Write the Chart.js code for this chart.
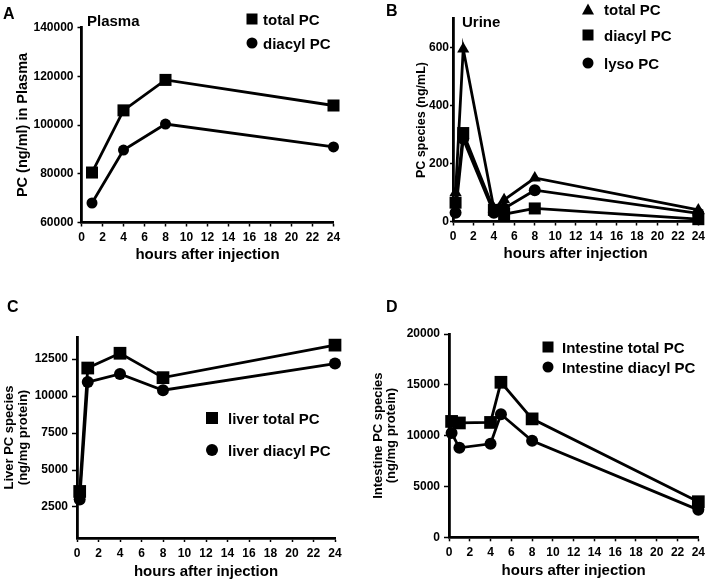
<!DOCTYPE html>
<html>
<head>
<meta charset="utf-8">
<script src="https://cdn.jsdelivr.net/npm/chart.js@4.4.1/dist/chart.umd.min.js"></script>
<style>
  body { margin: 0; background: #fff; }
  #wrap { position: relative; width: 709px; height: 583px; overflow: hidden;
          font-family: "Liberation Sans", Arial, sans-serif; font-weight: bold; color: #000; }
  canvas { position: absolute; }
  .txt { position: absolute; white-space: nowrap; line-height: 1; transform: translateY(-50%); }
  .mk { position: absolute; background: #000; transform: translate(-50%, -50%); }
  .sq { width: 11px; height: 11px; }
  .ci { width: 11px; height: 11px; border-radius: 50%; }
  .tri { width: 0; height: 0; background: none; border-left: 6px solid transparent;
         border-right: 6px solid transparent; border-bottom: 11px solid #000; }
</style>
</head>
<body>
<div id="wrap">
  <canvas id="chartA" width="355" height="290" style="left:0;top:0"></canvas>
  <canvas id="chartB" width="354" height="290" style="left:355px;top:0"></canvas>
  <canvas id="chartC" width="355" height="293" style="left:0;top:290px"></canvas>
  <canvas id="chartD" width="354" height="293" style="left:355px;top:290px"></canvas>

  <div class="txt" style="left:3px;top:14px;font-size:16px">A</div>
  <div class="txt" style="left:87px;top:20px;font-size:15px">Plasma</div>
  <div class="mk sq" style="left:252px;top:19px"></div>
  <div class="txt" style="left:263px;top:19px;font-size:15px">total PC</div>
  <div class="mk ci" style="left:252px;top:43px"></div>
  <div class="txt" style="left:263px;top:43px;font-size:15px">diacyl PC</div>

  <div class="txt" style="left:386px;top:11px;font-size:16px">B</div>
  <div class="txt" style="left:462px;top:21px;font-size:15px">Urine</div>
  <div class="mk tri" style="left:588px;top:9px"></div>
  <div class="txt" style="left:604px;top:9px;font-size:15px">total PC</div>
  <div class="mk sq" style="left:588px;top:35px"></div>
  <div class="txt" style="left:604px;top:35px;font-size:15px">diacyl PC</div>
  <div class="mk ci" style="left:588px;top:63px"></div>
  <div class="txt" style="left:604px;top:63px;font-size:15px">lyso PC</div>

  <div class="txt" style="left:7px;top:307px;font-size:16px">C</div>
  <div class="mk sq" style="left:212px;top:418px;width:12px;height:12px"></div>
  <div class="txt" style="left:228px;top:418px;font-size:15px">liver total PC</div>
  <div class="mk ci" style="left:212px;top:450px;width:12px;height:12px"></div>
  <div class="txt" style="left:228px;top:450px;font-size:15px">liver diacyl PC</div>

  <div class="txt" style="left:386px;top:307px;font-size:16px">D</div>
  <div class="mk sq" style="left:548px;top:347px"></div>
  <div class="txt" style="left:562px;top:347px;font-size:15px">Intestine total PC</div>
  <div class="mk ci" style="left:548px;top:367px"></div>
  <div class="txt" style="left:562px;top:367px;font-size:15px">Intestine diacyl PC</div>
</div>
<script>
const xTicks = [0, 2, 4, 6, 8, 10, 12, 14, 16, 18, 20, 22, 24];

// A: plasma
const hoursA = [1, 4, 8, 24];
const plasmaTotal = [80500, 106000, 118500, 108000];
const plasmaDiacyl = [68000, 89700, 100400, 91000];
const yTicksA = [60000, 80000, 100000, 120000, 140000];

// B: urine
const hoursB = [0.25, 1, 4, 5, 8, 24];
const urineTotal = [100, 595, 45, 75, 150, 40];
const urineDiacyl = [65, 305, 40, 25, 45, 8];
const urineLyso = [30, 285, 30, 45, 108, 28];
const yTicksB = [0, 200, 400, 600];

// C: liver
const hoursC = [0.25, 1, 4, 8, 24];
const liverTotal = [3550, 11900, 12900, 11250, 13450];
const liverDiacyl = [3000, 10950, 11500, 10400, 12200];
const yTicksC = [2500, 5000, 7500, 10000, 12500];

// D: intestine
const hoursD = [0.25, 1, 4, 5, 8, 24];
const intestineTotal = [11400, 11250, 11300, 15250, 11650, 3500];
const intestineDiacyl = [10250, 8800, 9200, 12100, 9500, 2700];
const yTicksD = [0, 5000, 10000, 15000, 20000];

const FONT = '"Liberation Sans", Arial, sans-serif';
const tickFont = { family: FONT, size: 12, weight: 'bold' };

function series(hours, values, style, radius) {
    return {
        data: hours.map((h, i) => ({ x: h, y: values[i] })),
        borderColor: '#000',
        backgroundColor: '#000',
        borderWidth: 2.8,
        pointStyle: style,
        pointRadius: radius,
        pointBorderWidth: 0,
        pointBackgroundColor: '#000',
        tension: 0,
        clip: false
    };
}

function panel(id, p) {
    new Chart(document.getElementById(id), {
        type: 'line',
        data: { datasets: p.datasets },
        options: {
            responsive: false,
            animation: false,
            layout: { padding: p.padding },
            plugins: { legend: { display: false }, tooltip: { enabled: false } },
            scales: {
                x: {
                    type: 'linear',
                    min: 0,
                    max: 24,
                    afterBuildTicks: s => { s.ticks = xTicks.map(v => ({ value: v })); },
                    afterFit: s => { s.height = p.xHeight; },
                    grid: { drawOnChartArea: false, drawTicks: true, tickLength: 4, tickColor: '#000', tickWidth: 1.5 },
                    border: { color: '#000', width: 2.8 },
                    ticks: { color: '#000', font: tickFont, padding: 4, maxRotation: 0, autoSkip: false,
                             callback: v => String(v) },
                    title: {
                        display: true,
                        text: 'hours after injection',
                        color: '#000',
                        font: { family: FONT, size: 15, weight: 'bold' },
                        padding: 0
                    }
                },
                y: {
                    min: p.yMin,
                    max: p.yMax,
                    afterBuildTicks: s => { s.ticks = p.yTicks.map(v => ({ value: v })); },
                    afterFit: s => { s.width = p.yWidth; },
                    grid: { drawOnChartArea: false, drawTicks: true, tickLength: p.yTickLen, tickColor: '#000', tickWidth: 1.5 },
                    border: { color: '#000', width: 2.8 },
                    ticks: { color: '#000', font: tickFont, padding: p.yTickPad, callback: v => String(v) },
                    title: {
                        display: true,
                        text: p.yTitle,
                        color: '#000',
                        font: { family: FONT, size: p.yTitleSize, weight: 'bold', lineHeight: 1.05 },
                        padding: { top: p.yTitlePad, bottom: 0 }
                    }
                }
            }
        }
    });
}

panel('chartA', {
    datasets: [
        series(hoursA, plasmaTotal, 'rect', 8.5),
        series(hoursA, plasmaDiacyl, 'circle', 5.5)
    ],
    padding: { left: 0, right: 21.5, top: 27.5, bottom: 26.5 },
    xHeight: 41, yWidth: 81.5,
    yMin: 60000, yMax: 140000, yTicks: yTicksA,
    yTickLen: 4, yTickPad: 4,
    yTitle: 'PC (ng/ml) in Plasma', yTitleSize: 14.5, yTitlePad: 14.9
});

panel('chartB', {
    datasets: [
        series(hoursB, urineTotal, 'triangle', 7),
        series(hoursB, urineDiacyl, 'rect', 8.5),
        series(hoursB, urineLyso, 'circle', 6)
    ],
    padding: { left: 0, right: 9, top: 18.5, bottom: 27.5 },
    xHeight: 41, yWidth: 98,
    yMin: 0, yMax: 700, yTicks: yTicksB,
    yTickLen: 3, yTickPad: 1,
    yTitle: 'PC species (ng/mL)', yTitleSize: 12.5, yTitlePad: 59.5
});

panel('chartC', {
    datasets: [
        series(hoursC, liverTotal, 'rect', 9),
        series(hoursC, liverDiacyl, 'circle', 6)
    ],
    padding: { left: 0, right: 20, top: 47, bottom: 2.5 },
    xHeight: 42.5, yWidth: 77,
    yMin: 400, yMax: 14000, yTicks: yTicksC,
    yTickLen: 5, yTickPad: 4,
    yTitle: ['Liver PC species', '(ng/mg protein)'], yTitleSize: 13, yTitlePad: 2.7
});

panel('chartD', {
    datasets: [
        series(hoursD, intestineTotal, 'rect', 9),
        series(hoursD, intestineDiacyl, 'circle', 6)
    ],
    padding: { left: 0, right: 9, top: 44, bottom: 3.2 },
    xHeight: 42.5, yWidth: 94,
    yMin: 0, yMax: 20000, yTicks: yTicksD,
    yTickLen: 5, yTickPad: 4,
    yTitle: ['Intestine PC species', '(ng/mg protein)'], yTitleSize: 13, yTitlePad: 16.2
});
</script>
</body>
</html>
